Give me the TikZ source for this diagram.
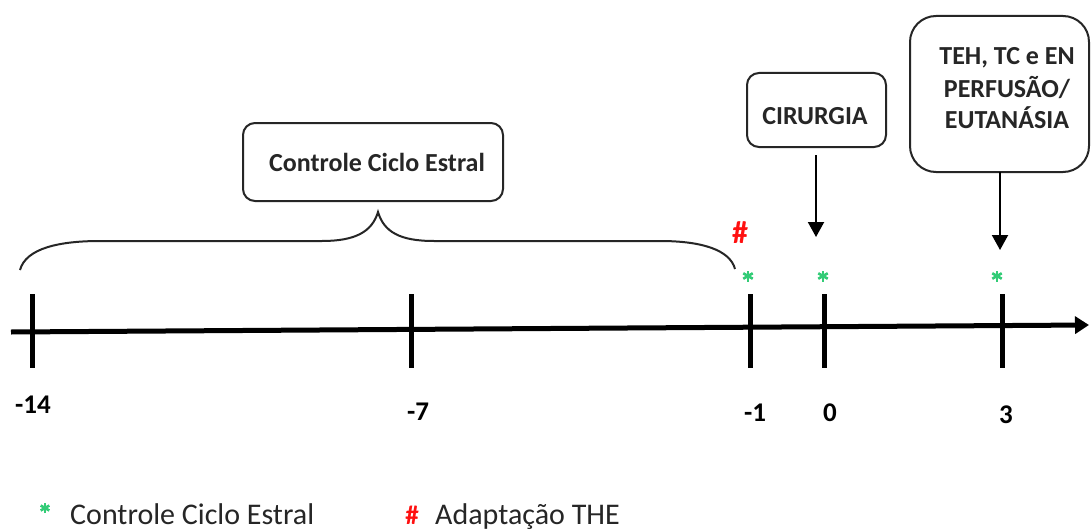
\documentclass[tikz,border=0pt]{standalone}
\usepackage{fontspec}
\setmainfont{Carlito}
\usetikzlibrary{arrows.meta}
\definecolor{inkgray}{HTML}{262626}
\definecolor{stargreen}{HTML}{33CC77}
\definecolor{hashred}{HTML}{FF1010}
\tikzset{
  box/.style={draw=inkgray, line width=2pt, rounded corners=12pt, fill=white},
  boxtext/.style={inner sep=0pt, text=inkgray, font=\fontsize{26}{30}\selectfont\bfseries, align=center},
  ticklabel/.style={inner sep=0pt, font=\fontsize{27}{30}\selectfont\bfseries},
  tickline/.style={line width=5pt},
  pointer/.style={line width=2pt, -{Triangle[length=15pt,width=16pt]}},
  spoke/.style={draw=stargreen, line width=2.6pt},
  hash/.style={inner sep=0pt, text=hashred, font=\fontsize{32}{34}\selectfont\bfseries},
  legendtext/.style={inner sep=0pt, anchor=base west, text=inkgray, font=\fontsize{30}{32}\selectfont},
}
\begin{document}
\begin{tikzpicture}[x=1pt, y=-1pt]
\useasboundingbox[fill=white] (0,0) rectangle (1091,532);

% time axis
\coordinate (axL) at (11,332);
\coordinate (axR) at (1089,325);
\draw[line width=5pt, -{Triangle[length=14pt,width=17pt]}] (axL) -- (axR);

% day ticks
\foreach \x/\nm in {32/m14, 411/m7, 750/m1, 824/d0, 1002/d3}{
  \coordinate (top-\nm) at (\x,294);
  \coordinate (bot-\nm) at (\x,368);
  \draw[tickline] (top-\nm) -- (bot-\nm);
}

% day labels
\node[ticklabel] (l14) at (33,405) {-14};
\node[ticklabel] (l7)  at (418,412) {-7};
\node[ticklabel] (l1)  at (755,413) {-1};
\node[ticklabel] (l0)  at (830,413) {0};
\node[ticklabel] (l3)  at (1006,415) {3};

% curly brace over days -14 to -1
\draw[inkgray, line width=2pt]
  (20,270) .. controls (26,248) and (60,241) .. (100,241) -- (322,241)
  .. controls (355,241) and (372,232) .. (378,212)
  .. controls (384,232) and (400,241) .. (434,241) -- (660,241)
  .. controls (702,241) and (730,250) .. (735,269);

% event boxes
\draw[box] (243,123) rectangle (503,201);
\node[boxtext] (ciclo) at (377,162) {Controle Ciclo Estral};

\draw[box] (747,73) rectangle (886,147);
\node[boxtext] (cir) at (815,116) {CIRURGIA};

\draw[box, rounded corners=26pt] (910,16) rectangle (1089,172);
\node[boxtext] (teh1) at (1007,58) {TEH, TC e EN};
\node[boxtext] (teh2) at (1007,88) {PERFUSÃO/};
\node[boxtext] (teh3) at (1007,118) {EUTANÁSIA};

% pointers to the timeline
\coordinate (cirS) at (816,155);
\coordinate (cirE) at (816,237);
\draw[pointer] (cirS) -- (cirE);
\coordinate (tehS) at (1000,172);
\coordinate (tehE) at (1000,250);
\draw[pointer] (tehS) -- (tehE);

% markers above the axis: red hash and green six-spoke asterisks
\node[hash] (h1) at (740,233) {\#};
\coordinate (s1) at (748,276);
\coordinate (s2) at (823,276);
\coordinate (s3) at (997,276);
\coordinate (ls) at (45,508);
\foreach \c/\r in {s1/5.5, s2/5.5, s3/5.5, ls/5}{
  \foreach \a in {90, 30, 150}{
    \draw[spoke] ([shift={(\a:\r)}]\c) -- ([shift={(\a+180:\r)}]\c);
  }
}

% legend
\node[legendtext] (lt1) at (70,524) {Controle Ciclo Estral};
\node[hash, anchor=base, font=\fontsize{27}{30}\selectfont\bfseries] (lh) at (412,524) {\#};
\node[legendtext] (lt2) at (435,524) {Adaptação THE};
\end{tikzpicture}
\end{document}
